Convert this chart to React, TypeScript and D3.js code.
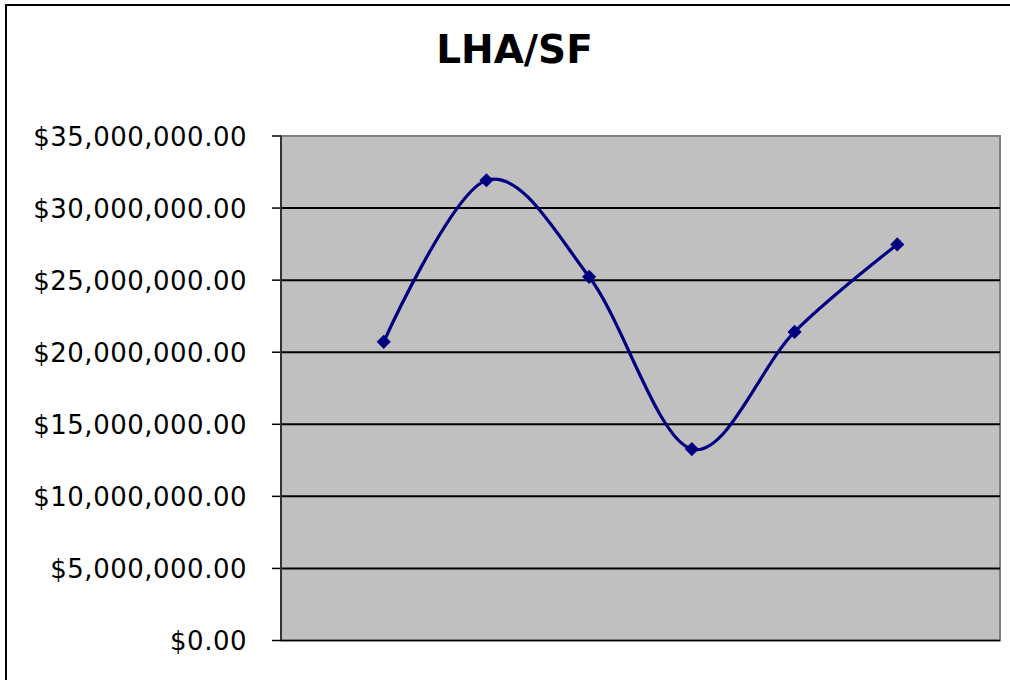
import React from "react";
import * as d3 from "d3";

const title = "LHA/SF";
const categories = [1, 2, 3, 4, 5, 6];
const values = [20720000, 31930000, 25230000, 13280000, 21410000, 27480000];
const yTicks = [0, 5000000, 10000000, 15000000, 20000000, 25000000, 30000000, 35000000];

const W = 1010;
const H = 680;
const plot = { left: 281, right: 1000, top: 136, bottom: 640.5 };

export default function App() {
  const x = d3.scaleLinear().domain([0, 7]).range([plot.left, plot.right]);
  const y = d3.scaleLinear().domain([0, 35000000]).range([plot.bottom, plot.top]);
  const fmt = (v: number) => "$" + d3.format(",.2f")(v);
  const line = d3
    .line<number>()
    .x((_, i) => x(categories[i]))
    .y((d) => y(d))
    .curve(d3.curveCardinal.tension(0));
  const marker = d3.symbol().type(d3.symbolSquare).size(100)();

  return (
    <svg
      width={W}
      height={H}
      style={{ position: "absolute", left: 0, top: 0, background: "#fff", overflow: "hidden" }}
      fontFamily="'DejaVu Sans', Verdana, sans-serif"
    >
      <path d={`M6,${H + 10} L6,5 L${W + 10},5`} fill="none" stroke="#000" strokeWidth={2} />
      <text x={514.5} y={63} textAnchor="middle" fontSize={39} fontWeight="bold" fill="#000">
        {title}
      </text>
      <rect
        x={plot.left}
        y={plot.top}
        width={plot.right - plot.left}
        height={plot.bottom - plot.top}
        fill="#C0C0C0"
        stroke="#808080"
        strokeWidth={2}
      />
      {yTicks.map((t) => (
        <g key={t}>
          {t > 0 && t < 35000000 && (
            <line x1={plot.left} x2={plot.right} y1={y(t)} y2={y(t)} stroke="#000" strokeWidth={2} />
          )}
          <line x1={272} x2={plot.left} y1={y(t)} y2={y(t)} stroke="#000" strokeWidth={1.5} />
          <text x={247} y={y(t) + 9.5} textAnchor="end" fontSize={26} letterSpacing={0.5} fill="#000">
            {fmt(t)}
          </text>
        </g>
      ))}
      <line x1={plot.left} x2={plot.left} y1={plot.top} y2={plot.bottom} stroke="#333" strokeWidth={2} />
      <line x1={plot.left} x2={plot.right} y1={plot.bottom} y2={plot.bottom} stroke="#000" strokeWidth={1.5} />
      <path d={line(values) || ""} fill="none" stroke="#000080" strokeWidth={3.2} />
      {values.map((v, i) => (
        <path
          key={i}
          d={marker || ""}
          transform={`translate(${x(categories[i])},${y(v)}) rotate(45)`}
          fill="#000080"
        />
      ))}
    </svg>
  );
}
